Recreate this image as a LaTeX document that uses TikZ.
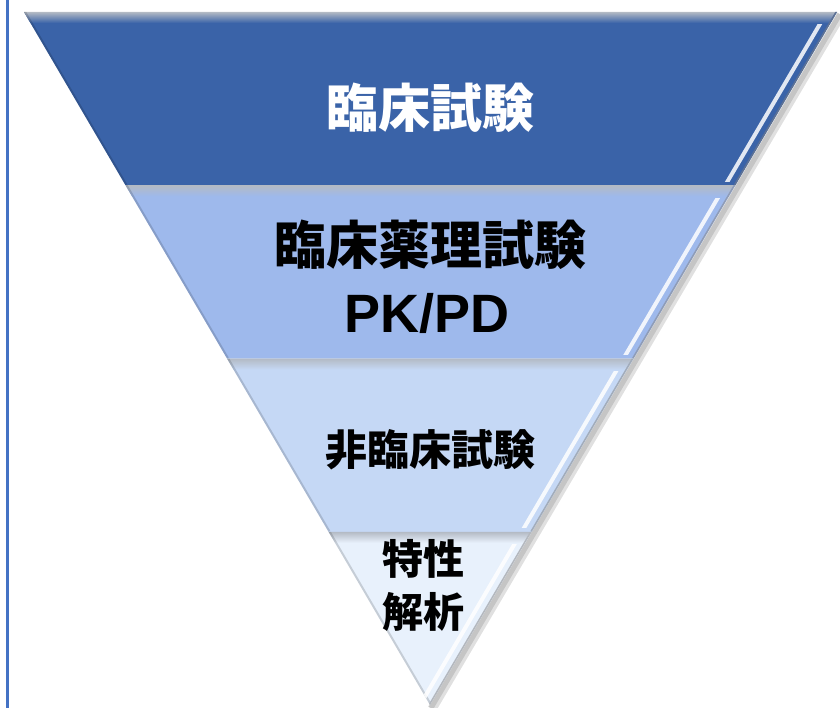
\documentclass[tikz,border=0pt]{standalone}
\usepackage{fontspec}
\usepackage{tikz}
\usetikzlibrary{calc}
\newfontfamily\jpfont{Noto Sans CJK JP}
\newfontfamily\lsfont{Liberation Sans}
\definecolor{sideline}{HTML}{4472C4}
\definecolor{bandA}{HTML}{3A63A8}
\definecolor{bandB}{HTML}{9EB9EC}
\definecolor{bandC}{HTML}{C5D8F5}
\definecolor{bandD}{HTML}{E8F1FC}
\definecolor{bevtop}{HTML}{B3BAC4}
\definecolor{bevmid}{HTML}{56657C}

\begin{document}
\begin{tikzpicture}[
  x=1pt, y=-1pt,
  jp/.style={
    font=\jpfont\bfseries\fontsize{#1}{#1}\selectfont,
    inner sep=0pt
  },
  edgeshade/.style={line width=#1, black, opacity=.12}
]
  \useasboundingbox (0,0) rectangle (840,708);
  \draw[sideline, line width=3pt] (7,0) -- (7,708);

  \coordinate (tl) at (24,12);
  \coordinate (tr) at (837,12);
  \coordinate (ap) at (430,705);

  % shadow on the right side
  \draw[edgeshade=9pt] ($(tr)+(4,3)$) -- ($(ap)+(2,4)$);
  \draw[edgeshade=5pt] ($(tr)+(3,2)$) -- ($(ap)+(1,3)$);

  \foreach \a/\b/\c in {0/0.25/bandA, 0.25/0.5/bandB, 0.5/0.75/bandC, 0.75/1/bandD} {
    \coordinate (l1) at ($(tl)!\a!(ap)$);
    \coordinate (r1) at ($(tr)!\a!(ap)$);
    \coordinate (l2) at ($(tl)!\b!(ap)$);
    \coordinate (r2) at ($(tr)!\b!(ap)$);
    \begin{scope}
      \clip (l1) -- (r1) -- (r2) -- (l2) -- cycle;
      \fill[\c] ($(l1)+(-20,0)$) rectangle ($(r1|-l2)+(20,0)$);
      \shade[top color=bevtop, middle color=bevmid, bottom color=\c]
        ($(l1)+(-20,0)$) rectangle ($(r1)+(20,11)$);
      \draw[black, opacity=.15, line width=4pt] (l1) -- (l2);
      \draw[\c!50!gray, line width=3pt] (r1) -- (r2);
      \begin{scope}
        \clip ($(l1)+(-50,13)$) rectangle ($(r1|-r2)+(50,-4)$);
        \draw[white, opacity=.85, line width=4pt, line cap=round]
          ($(tr)+(-10,0)$) -- ($(ap)+(-10,0)$);
      \end{scope}
    \end{scope}
  }

  \node[jp=52, text=white] (clin) at (430,108) {臨床試験};
  \node[jp=52] (phar) at (430,245) {臨床薬理試験};
  \node[font=\lsfont\bfseries\fontsize{54}{54}\selectfont, inner sep=0pt] (pkpd) at (427,313) {PK/PD};
  \node[jp=42] (prec) at (430,450) {非臨床試験};
  \node[jp=41, align=center, font=\jpfont\bfseries\fontsize{41}{53}\selectfont] (char) at (423,585) {特性\\解析};
\end{tikzpicture}
\end{document}
